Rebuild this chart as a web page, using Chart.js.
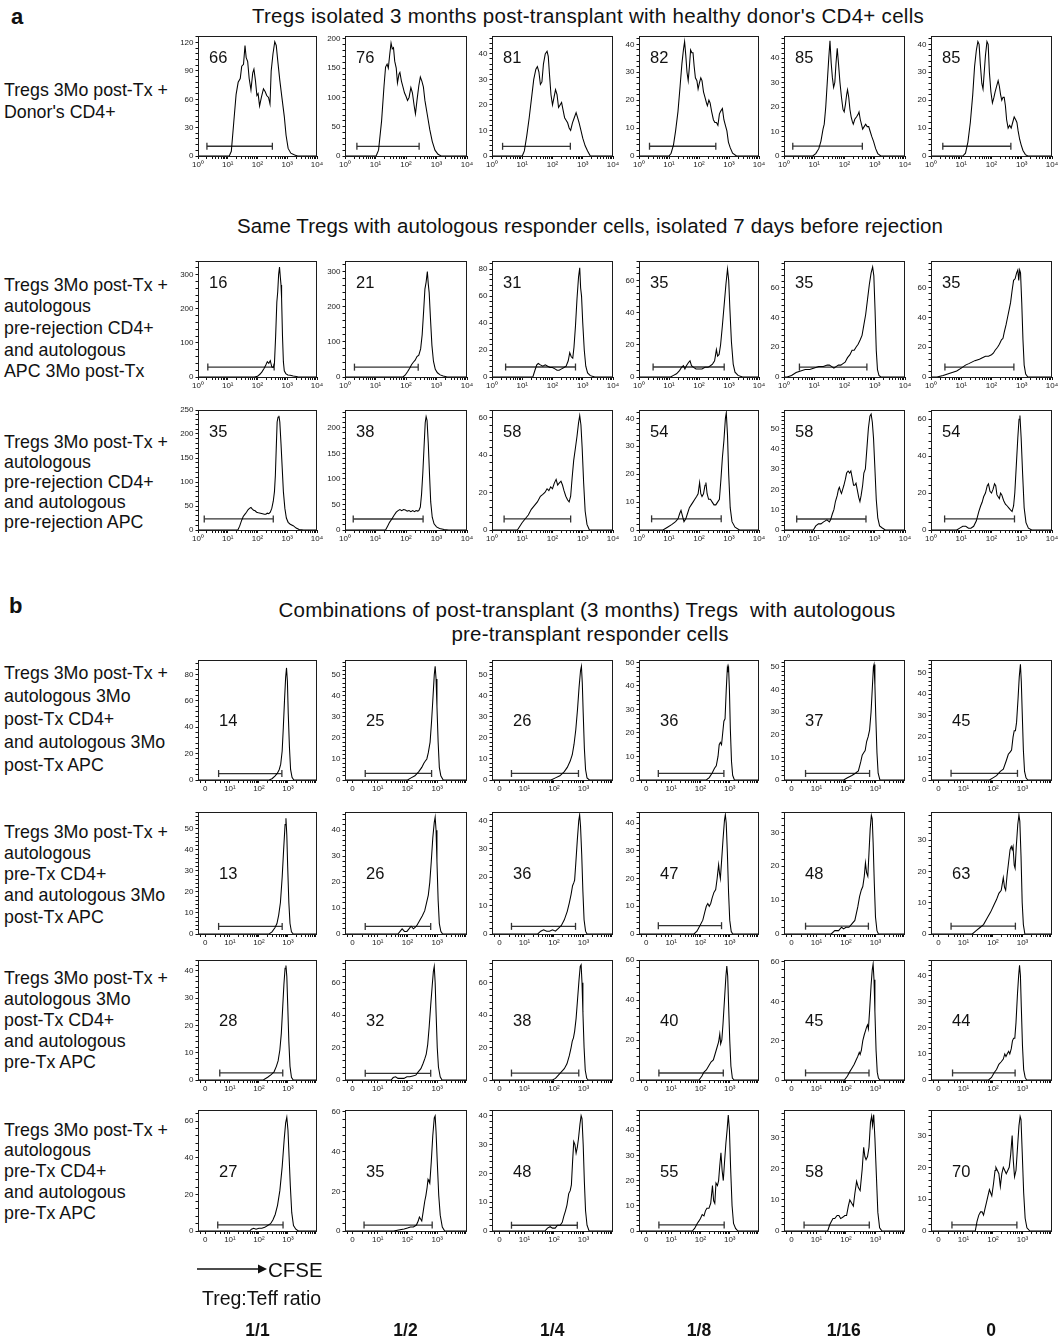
<!DOCTYPE html>
<html>
<head>
<meta charset="utf-8">
<script src="https://cdn.jsdelivr.net/npm/chart.js@4.4.1/dist/chart.umd.min.js"></script>
<style>
  html, body { margin: 0; padding: 0; background: #fff; }
  body { width: 1063px; height: 1337px; position: relative; overflow: hidden;
         font-family: "Liberation Sans", Arial, Helvetica, sans-serif; color: #111; }
  .t { position: absolute; white-space: pre; }
  canvas { position: absolute; }
</style>
</head>
<body>
<script>
// ---------------- labels ----------------
const ratioLabels = ['1/1', '1/2', '1/4', '1/8', '1/16', '0'];
const titleA1 = "Tregs isolated 3 months post-transplant with healthy donor's CD4+ cells";
const titleA2 = "Same Tregs with autologous responder cells, isolated 7 days before rejection";
const titleB = ["Combinations of post-transplant (3 months) Tregs  with autologous", "pre-transplant responder cells"];
const rowTextA1 = ["Tregs 3Mo post-Tx +", "Donor's CD4+"];
const rowTextA2 = ["Tregs 3Mo post-Tx +", "autologous", "pre-rejection CD4+", "and autologous", "APC 3Mo post-Tx"];
const rowTextA3 = ["Tregs 3Mo post-Tx +", "autologous", "pre-rejection CD4+", "and autologous", "pre-rejection APC"];
const rowTextB1 = ["Tregs 3Mo post-Tx +", "autologous 3Mo", "post-Tx CD4+", "and autologous 3Mo", "post-Tx APC"];
const rowTextB2 = ["Tregs 3Mo post-Tx +", "autologous", "pre-Tx CD4+", "and autologous 3Mo", "post-Tx APC"];
const rowTextB3 = ["Tregs 3Mo post-Tx +", "autologous 3Mo", "post-Tx CD4+", "and autologous", "pre-Tx APC"];
const rowTextB4 = ["Tregs 3Mo post-Tx +", "autologous", "pre-Tx CD4+", "and autologous", "pre-Tx APC"];

// ---------------- % cells in the division gate ----------------
const pctA1 = [66, 76, 81, 82, 85, 85];
const pctA2 = [16, 21, 31, 35, 35, 35];
const pctA3 = [35, 38, 58, 54, 58, 54];
const pctB1 = [14, 25, 26, 36, 37, 45];
const pctB2 = [13, 26, 36, 47, 48, 63];
const pctB3 = [28, 32, 38, 40, 45, 44];
const pctB4 = [27, 35, 48, 55, 58, 70];

// ---------------- count axes: top of range and tick step ----------------
const yMaxA1 = [127, 205, 47, 43, 49, 43];   const yStepA1 = [30, 50, 10, 10, 10, 10];
const yMaxA2 = [340, 330, 86, 72, 78, 78];   const yStepA2 = [100, 100, 20, 20, 20, 20];
const yMaxA3 = [250, 235, 64, 43, 59, 65];   const yStepA3 = [50, 50, 20, 10, 10, 20];
const yMaxB1 = [91, 57, 57, 51, 53, 56];     const yStepB1 = [20, 10, 10, 10, 10, 10];
const yMaxB2 = [58, 47, 43, 44, 36, 39];     const yStepB2 = [10, 10, 10, 10, 10, 10];
const yMaxB3 = [44, 74, 74, 60, 61, 46];     const yStepB3 = [10, 20, 20, 20, 20, 10];
const yMaxB4 = [66, 61, 42, 48, 39, 38];     const yStepB4 = [20, 20, 10, 10, 10, 10];

// ---------------- gates: [from, to, drawn at count] ----------------
const gateA1 = [[0.3, 2.5, 10.3], [0.39, 2.43, 16.6], [0.35, 2.59, 3.8], [0.35, 2.56, 3.5], [0.29, 2.59, 4.0], [0.39, 2.64, 3.5]];
const gateA2 = [[0.33, 2.56, 29], [0.31, 2.4, 28], [0.45, 2.76, 7.4], [0.47, 2.84, 6.2], [0.51, 2.74, 6.7], [0.46, 2.74, 6.7]];
const gateA3 = [[0.21, 2.53, 23], [0.27, 2.56, 21.5], [0.4, 2.6, 5.9], [0.42, 2.74, 4], [0.42, 2.71, 5.4], [0.45, 2.76, 6]];
const gateB1 = [[0.61, 2.79, 4.9], [0.58, 2.81, 3.1], [0.56, 2.83, 3.1], [0.56, 2.8, 2.8], [0.63, 2.8, 2.9], [0.58, 2.83, 3.1]];
const gateB2 = [[0.61, 2.8, 3.6], [0.58, 2.78, 2.9], [0.56, 2.73, 2.7], [0.56, 2.72, 3], [0.63, 2.76, 2.3], [0.58, 2.76, 2.5]];
const gateB3 = [[0.65, 2.82, 2.6], [0.58, 2.78, 4.1], [0.56, 2.84, 4.3], [0.58, 2.78, 3.5], [0.63, 2.78, 3.6], [0.63, 2.75, 2.7]];
const gateB4 = [[0.58, 2.83, 3.3], [0.54, 2.83, 3], [0.56, 2.79, 2], [0.58, 2.81, 2.4], [0.58, 2.79, 1.9], [0.61, 2.81, 1.9]];

// ---------------- CFSE histograms: [decade position, count] ----------------
// row a1: Tregs + donor CD4+
const a1_1 = [[0,0],[1.05,0],[1.12,5],[1.2,35],[1.28,65],[1.35,78],[1.42,82],[1.47,95],[1.53,97],[1.58,117],[1.62,104],[1.67,100],[1.72,82],[1.78,70],[1.84,88],[1.88,92],[1.93,80],[1.98,64],[2.02,66],[2.07,53],[2.13,62],[2.2,71],[2.26,68],[2.31,64],[2.37,62],[2.42,55],[2.46,90],[2.52,108],[2.58,121],[2.63,117],[2.69,98],[2.75,80],[2.82,62],[2.9,42],[2.96,22],[3.03,8],[3.12,3],[3.25,1],[3.35,0],[4,0]];
const a1_2 = [[0,0],[1.02,0],[1.1,10],[1.2,60],[1.28,120],[1.33,152],[1.38,157],[1.42,150],[1.47,175],[1.51,193],[1.55,183],[1.59,185],[1.63,162],[1.68,150],[1.72,125],[1.77,140],[1.8,143],[1.85,128],[1.9,118],[1.95,108],[2.0,102],[2.05,95],[2.1,100],[2.16,117],[2.21,108],[2.27,85],[2.31,72],[2.36,95],[2.42,120],[2.47,135],[2.52,128],[2.57,118],[2.62,95],[2.7,70],[2.78,45],[2.86,25],[2.95,10],[3.05,3],[3.15,0],[4,0]];
const a1_3 = [[0,0],[1.0,0],[1.07,2],[1.15,8],[1.23,15],[1.3,22],[1.38,30],[1.45,34],[1.5,35],[1.55,33],[1.6,28],[1.65,29],[1.7,36],[1.76,40],[1.82,41],[1.86,39],[1.9,32],[1.95,24],[2.0,20],[2.05,23],[2.1,26],[2.15,24],[2.2,19],[2.25,20],[2.3,21],[2.35,18],[2.4,15],[2.45,14],[2.5,13],[2.55,11],[2.6,10],[2.66,13],[2.72,15],[2.78,17],[2.83,15],[2.88,13],[2.94,10],[3.0,7],[3.08,4],[3.16,2],[3.25,0],[4,0]];
const a1_4 = [[0,0],[1.0,0],[1.07,1],[1.15,4],[1.22,9],[1.3,16],[1.37,25],[1.43,33],[1.48,38],[1.52,41],[1.56,36],[1.6,30],[1.64,27],[1.68,32],[1.72,38],[1.76,37],[1.8,37],[1.84,32],[1.88,28],[1.93,27],[1.97,24],[2.01,26],[2.06,28],[2.1,27],[2.15,23],[2.2,21],[2.25,19],[2.28,18],[2.33,20],[2.37,19],[2.42,16],[2.48,13],[2.53,12],[2.58,12],[2.63,11],[2.68,15],[2.72,16],[2.78,17],[2.83,13],[2.88,11],[2.93,9],[2.98,5],[3.04,3],[3.12,1],[3.25,0],[4,0]];
const a1_5 = [[0,0],[0.95,0],[1.05,1],[1.15,3],[1.22,6],[1.29,11],[1.33,13],[1.38,20],[1.43,30],[1.48,40],[1.52,47],[1.56,38],[1.6,32],[1.64,28],[1.68,30],[1.72,38],[1.76,44],[1.8,38],[1.85,30],[1.9,24],[1.95,19],[1.99,18],[2.03,21],[2.07,25],[2.1,27],[2.14,24],[2.18,19],[2.22,16],[2.26,14],[2.29,13],[2.34,15],[2.4,16],[2.45,17],[2.48,18],[2.52,15],[2.56,13],[2.6,11],[2.65,12],[2.7,13],[2.75,12],[2.8,12],[2.85,10],[2.9,8],[2.96,6],[3.03,3],[3.1,1],[3.2,0],[4,0]];
const a1_6 = [[0,0],[1.05,0],[1.14,1],[1.22,5],[1.3,12],[1.38,22],[1.44,32],[1.5,38],[1.55,41],[1.59,40],[1.63,33],[1.68,26],[1.72,24],[1.76,30],[1.8,36],[1.85,41],[1.89,40],[1.93,30],[1.98,23],[2.03,19],[2.08,21],[2.12,23],[2.17,25],[2.22,27],[2.26,25],[2.3,22],[2.34,20],[2.38,21],[2.42,21],[2.46,18],[2.5,13],[2.55,10],[2.6,11],[2.65,10],[2.7,12],[2.75,14],[2.8,13],[2.84,12],[2.88,9],[2.93,6],[2.98,4],[3.04,2],[3.12,0.5],[3.2,0],[4,0]];

// row a2: + pre-rejection CD4+ and 3Mo APC
const a2_1 = [[0,0],[1.9,0],[2.0,2],[2.08,8],[2.15,15],[2.22,25],[2.28,35],[2.33,45],[2.38,40],[2.43,48],[2.48,30],[2.53,28],[2.57,40],[2.61,120],[2.65,220],[2.68,250],[2.71,300],[2.74,322],[2.77,290],[2.79,270],[2.81,230],[2.84,120],[2.87,45],[2.9,18],[2.95,10],[3.02,6],[3.1,5],[3.2,3],[3.35,1],[3.5,0],[4,0]];
const a2_2 = [[0,0],[1.9,0],[1.97,5],[2.05,15],[2.12,25],[2.18,35],[2.24,42],[2.3,48],[2.36,58],[2.42,62],[2.48,80],[2.53,120],[2.58,190],[2.62,250],[2.66,270],[2.7,300],[2.73,265],[2.76,240],[2.8,170],[2.85,90],[2.9,45],[2.96,22],[3.03,12],[3.12,6],[3.22,3],[3.35,0],[4,0]];
const a2_3 = [[0,0],[1.35,0],[1.42,5],[1.48,9],[1.53,10],[1.6,9],[1.68,8],[1.76,9],[1.84,8],[1.92,7],[2.0,7],[2.08,6],[2.15,5],[2.22,5],[2.3,6],[2.38,7],[2.45,8],[2.52,12],[2.57,18],[2.62,15],[2.67,14],[2.71,22],[2.76,38],[2.81,58],[2.86,74],[2.9,81],[2.93,66],[2.96,60],[3.0,40],[3.05,20],[3.1,8],[3.16,3],[3.25,1],[3.4,0],[4,0]];
const a2_4 = [[0,0],[1.05,0],[1.15,1],[1.25,2],[1.35,4],[1.42,6],[1.48,7],[1.53,5],[1.58,7],[1.65,9],[1.7,10],[1.75,7],[1.82,6],[1.9,5],[2.0,5],[2.1,5],[2.2,6],[2.3,6],[2.38,7],[2.45,8],[2.52,10],[2.58,17],[2.62,13],[2.67,14],[2.72,20],[2.78,32],[2.84,45],[2.9,58],[2.95,67],[2.99,60],[3.03,42],[3.08,22],[3.14,8],[3.2,3],[3.3,1],[3.45,0],[4,0]];
const a2_5 = [[0,0],[0.1,0],[0.25,1],[0.4,3],[0.55,4],[0.7,5],[0.85,5],[1.0,6],[1.15,7],[1.3,7],[1.43,8],[1.5,8],[1.58,7],[1.65,6],[1.72,7],[1.8,8],[1.88,8],[1.95,9],[2.02,10],[2.1,13],[2.18,15],[2.25,18],[2.32,18],[2.38,20],[2.45,22],[2.52,25],[2.58,28],[2.64,35],[2.7,42],[2.76,52],[2.82,62],[2.88,70],[2.93,74],[2.97,68],[3.01,45],[3.05,18],[3.09,5],[3.14,1],[3.2,0],[4,0]];
const a2_6 = [[0,0],[0.2,0],[0.4,1],[0.55,2],[0.7,3],[0.85,4],[1.0,6],[1.14,8],[1.25,9],[1.35,10],[1.45,11],[1.6,12],[1.7,13],[1.8,14],[1.9,14],[2.0,15],[2.06,16],[2.12,18],[2.2,20],[2.26,22],[2.33,25],[2.38,26],[2.42,30],[2.48,35],[2.53,40],[2.58,45],[2.63,50],[2.68,58],[2.73,65],[2.78,66],[2.83,70],[2.87,72],[2.9,65],[2.93,72],[2.96,70],[3.0,50],[3.04,25],[3.08,8],[3.13,2],[3.2,0],[4,0]];

// row a3: + pre-rejection CD4+ and pre-rejection APC
const a3_1 = [[0,0],[1.34,0],[1.4,8],[1.46,19],[1.52,28],[1.58,33],[1.63,37],[1.68,42],[1.73,45],[1.78,47],[1.82,44],[1.87,41],[1.92,40],[1.97,37],[2.03,36],[2.1,35],[2.17,34],[2.23,33],[2.28,33],[2.33,35],[2.38,34],[2.43,37],[2.48,45],[2.53,60],[2.57,80],[2.6,113],[2.63,170],[2.66,225],[2.69,235],[2.72,238],[2.75,225],[2.79,180],[2.83,130],[2.87,80],[2.92,45],[2.97,25],[3.03,16],[3.1,12],[3.2,9],[3.3,4],[3.4,1],[3.55,0],[4,0]];
const a3_2 = [[0,0],[1.33,0],[1.4,8],[1.46,15],[1.52,20],[1.6,28],[1.68,35],[1.74,38],[1.8,40],[1.86,38],[1.92,40],[1.98,39],[2.04,37],[2.1,38],[2.16,36],[2.22,38],[2.28,36],[2.33,38],[2.38,37],[2.42,38],[2.47,45],[2.51,70],[2.55,110],[2.59,160],[2.63,210],[2.66,222],[2.69,215],[2.73,170],[2.77,110],[2.81,55],[2.86,25],[2.92,12],[3.0,6],[3.1,3],[3.25,1],[3.4,0],[4,0]];
const a3_3 = [[0,0],[0.84,0],[0.92,2],[1.0,4],[1.1,6],[1.2,8],[1.3,11],[1.4,13],[1.5,15],[1.6,18],[1.68,19],[1.75,20],[1.82,22],[1.88,21],[1.94,23],[2.0,22],[2.06,25],[2.12,27],[2.17,24],[2.22,25],[2.28,26],[2.33,24],[2.38,21],[2.44,18],[2.5,16],[2.55,15],[2.6,18],[2.65,28],[2.7,37],[2.76,44],[2.81,50],[2.86,57],[2.9,61],[2.94,56],[2.98,44],[3.03,25],[3.08,10],[3.14,3],[3.22,0],[4,0]];
const a3_4 = [[0,0],[0.8,0],[0.95,1],[1.1,2],[1.22,3],[1.3,4],[1.36,6],[1.4,7],[1.45,5],[1.5,3],[1.56,4],[1.62,6],[1.68,8],[1.74,9],[1.8,10],[1.86,11],[1.92,12],[1.97,13],[2.02,17],[2.06,13],[2.1,12],[2.15,13],[2.2,16],[2.23,17],[2.27,13],[2.32,11],[2.38,11],[2.44,10],[2.5,9],[2.56,9],[2.62,10],[2.68,11],[2.73,18],[2.78,26],[2.83,32],[2.88,40],[2.91,42],[2.95,34],[2.99,20],[3.04,8],[3.1,3],[3.2,1],[3.35,0],[4,0]];
const a3_5 = [[0,0],[0.97,0],[1.05,2],[1.14,3],[1.22,3],[1.31,4],[1.42,5],[1.5,4],[1.54,5],[1.6,8],[1.65,10],[1.7,14],[1.76,17],[1.8,20],[1.83,21],[1.87,19],[1.9,18],[1.94,20],[1.98,22],[2.03,25],[2.07,28],[2.12,29],[2.17,28],[2.21,29],[2.25,26],[2.3,22],[2.34,22],[2.38,23],[2.42,20],[2.47,16],[2.51,14],[2.55,17],[2.6,22],[2.64,28],[2.69,30],[2.74,40],[2.79,50],[2.84,56],[2.88,57],[2.92,53],[2.96,45],[3.0,32],[3.05,15],[3.1,6],[3.16,2],[3.25,1],[3.35,0],[4,0]];
const a3_6 = [[0,0],[0.85,0],[0.95,1],[1.05,2],[1.15,2],[1.24,1],[1.32,1],[1.41,2],[1.5,5],[1.58,10],[1.64,13],[1.69,15],[1.74,18],[1.8,20],[1.86,24],[1.9,25],[1.95,21],[2.0,20],[2.05,22],[2.1,25],[2.14,24],[2.18,19],[2.22,18],[2.26,17],[2.3,20],[2.34,19],[2.4,16],[2.46,14],[2.52,13],[2.57,12],[2.62,11],[2.68,10],[2.73,13],[2.77,20],[2.82,35],[2.87,50],[2.91,60],[2.94,62],[2.98,50],[3.03,30],[3.08,12],[3.14,4],[3.22,1],[3.33,0],[4,0]];

// row b1: + 3Mo CD4+ and 3Mo APC
const b1_1 = [[-0.1,0],[2.35,0],[2.45,1],[2.55,3],[2.63,5],[2.7,8],[2.75,12],[2.8,22],[2.84,40],[2.88,60],[2.92,78],[2.95,85],[2.98,75],[3.01,50],[3.05,25],[3.09,8],[3.14,2],[3.2,0],[4,0]];
const b1_2 = [[-0.1,0],[2.0,0],[2.12,1],[2.25,2],[2.38,4],[2.48,6],[2.55,8],[2.6,9],[2.65,10],[2.7,13],[2.76,18],[2.81,28],[2.86,40],[2.9,50],[2.93,54],[2.96,48],[2.99,35],[3.03,18],[3.07,6],[3.12,2],[3.2,0],[4,0]];
const b1_3 = [[-0.1,0],[1.9,0],[2.05,1],[2.2,2],[2.35,4],[2.45,6],[2.55,9],[2.62,12],[2.68,17],[2.74,24],[2.8,34],[2.85,44],[2.9,52],[2.93,54],[2.96,46],[2.99,32],[3.03,15],[3.07,5],[3.12,1],[3.2,0],[4,0]];
const b1_4 = [[-0.1,0],[2.2,0],[2.3,1],[2.4,3],[2.48,5],[2.54,6],[2.6,10],[2.64,15],[2.68,16],[2.72,15],[2.76,20],[2.8,25],[2.84,26],[2.88,38],[2.92,48],[2.94,47],[2.96,48],[2.99,38],[3.02,22],[3.06,8],[3.1,2],[3.16,0],[4,0]];
const b1_5 = [[-0.1,0],[1.92,0],[2.05,1],[2.2,2],[2.32,3],[2.42,4],[2.5,8],[2.55,11],[2.6,12],[2.65,13],[2.7,17],[2.75,19],[2.8,22],[2.85,30],[2.89,40],[2.93,50],[2.95,51],[2.98,42],[3.01,28],[3.05,12],[3.09,3],[3.15,0],[4,0]];
const b1_6 = [[-0.1,0],[1.88,0],[2.0,1],[2.12,2],[2.25,4],[2.35,5],[2.45,9],[2.52,12],[2.58,13],[2.63,14],[2.68,20],[2.72,23],[2.76,23],[2.8,27],[2.85,38],[2.89,48],[2.93,54],[2.96,46],[2.99,32],[3.03,14],[3.07,4],[3.12,1],[3.18,0],[4,0]];

// row b2: + pre-Tx CD4+ and 3Mo APC
const b2_1 = [[-0.1,0],[2.35,0],[2.45,1],[2.55,3],[2.62,5],[2.68,9],[2.74,15],[2.8,27],[2.85,40],[2.9,52],[2.93,55],[2.96,47],[2.99,32],[3.03,15],[3.07,5],[3.12,1],[3.18,0],[4,0]];
const b2_2 = [[-0.1,0],[1.68,0],[1.75,1],[1.82,2],[1.9,1],[1.98,1],[2.05,2],[2.12,3],[2.2,2],[2.3,3],[2.4,5],[2.5,7],[2.58,9],[2.64,12],[2.7,15],[2.75,20],[2.8,28],[2.85,37],[2.9,43],[2.93,45],[2.96,40],[2.99,28],[3.03,13],[3.07,4],[3.12,1],[3.18,0],[4,0]];
const b2_3 = [[-0.1,0],[1.45,0],[1.55,1],[1.65,1.5],[1.75,1],[1.85,1],[1.95,1.5],[2.05,1],[2.15,2],[2.25,3],[2.35,5],[2.45,8],[2.52,11],[2.58,14],[2.63,17],[2.67,18],[2.7,19],[2.74,25],[2.79,33],[2.84,40],[2.87,42],[2.9,38],[2.94,28],[2.98,15],[3.02,5],[3.07,1],[3.12,0],[4,0]];
const b2_4 = [[-0.1,0],[1.78,0],[1.88,1],[1.98,3],[2.08,5],[2.15,8],[2.2,10],[2.25,11],[2.3,10],[2.35,11],[2.4,13],[2.46,15],[2.52,16],[2.57,20],[2.62,25],[2.65,22],[2.68,20],[2.72,26],[2.77,34],[2.82,41],[2.85,43],[2.88,40],[2.92,29],[2.96,15],[3.0,5],[3.05,1],[3.1,0],[4,0]];
const b2_5 = [[-0.1,0],[1.5,0],[1.62,1],[1.75,1],[1.85,2],[1.92,1.5],[2.0,2],[2.1,2],[2.2,3],[2.3,4],[2.4,8],[2.46,11],[2.52,13],[2.57,14],[2.62,17],[2.66,21],[2.7,18],[2.74,17],[2.78,24],[2.82,31],[2.86,35],[2.89,34],[2.92,27],[2.96,15],[3.0,5],[3.05,1],[3.1,0],[4,0]];
const b2_6 = [[-0.1,0],[1.3,0],[1.42,1],[1.55,2],[1.68,3],[1.8,5],[1.92,7],[2.02,9],[2.12,11],[2.2,13],[2.28,14],[2.35,18],[2.39,15],[2.43,14],[2.48,19],[2.53,23],[2.58,27],[2.62,28],[2.65,27],[2.68,28],[2.72,22],[2.75,21],[2.79,28],[2.84,35],[2.88,38],[2.91,36],[2.95,25],[2.99,10],[3.03,3],[3.08,0],[4,0]];

// row b3: + 3Mo CD4+ and pre-Tx APC
const b3_1 = [[-0.1,0],[2.15,0],[2.3,1],[2.42,2],[2.52,3],[2.6,5],[2.66,7],[2.72,11],[2.77,17],[2.82,27],[2.86,35],[2.9,41],[2.93,42],[2.96,38],[2.99,28],[3.03,14],[3.07,5],[3.12,1],[3.18,0],[4,0]];
const b3_2 = [[-0.1,0],[1.45,0],[1.52,1.5],[1.6,2],[1.68,1],[1.78,1],[1.88,1],[1.98,2],[2.08,2],[2.18,2.5],[2.28,3],[2.36,5],[2.45,7],[2.52,10],[2.58,13],[2.63,16],[2.68,22],[2.73,33],[2.78,46],[2.83,58],[2.87,67],[2.9,70],[2.93,60],[2.96,42],[3.0,20],[3.04,8],[3.1,2],[3.16,0],[4,0]];
const b3_3 = [[-0.1,0],[1.95,0],[2.05,1],[2.15,3],[2.25,5],[2.35,7],[2.44,10],[2.52,15],[2.58,20],[2.62,24],[2.66,26],[2.7,30],[2.75,38],[2.8,50],[2.85,62],[2.89,70],[2.92,71],[2.95,60],[2.98,42],[3.02,20],[3.06,6],[3.11,1],[3.16,0],[4,0]];
const b3_4 = [[-0.1,0],[1.95,0],[2.05,2],[2.12,4],[2.2,5],[2.28,7],[2.36,9],[2.44,10],[2.5,13],[2.56,16],[2.62,19],[2.66,23],[2.69,18],[2.73,20],[2.77,28],[2.82,40],[2.87,52],[2.9,57],[2.93,52],[2.96,38],[3.0,20],[3.04,7],[3.09,1],[3.15,0],[4,0]];
const b3_5 = [[-0.1,0],[1.95,0],[2.05,2],[2.12,4],[2.2,6],[2.28,8],[2.34,10],[2.4,12],[2.45,14],[2.48,13],[2.52,15],[2.57,20],[2.62,23],[2.66,25],[2.7,27],[2.73,28],[2.76,26],[2.8,35],[2.85,48],[2.89,56],[2.92,59],[2.95,51],[2.98,35],[3.02,15],[3.06,4],[3.1,1],[3.15,0],[4,0]];
const b3_6 = [[-0.1,0],[1.85,0],[1.95,1],[2.05,3],[2.12,4],[2.2,6],[2.28,7],[2.35,8],[2.4,10],[2.44,9],[2.48,10],[2.53,11],[2.57,10],[2.62,12],[2.66,15],[2.7,16],[2.74,16],[2.78,22],[2.83,33],[2.87,40],[2.9,44],[2.93,40],[2.96,28],[3.0,13],[3.04,4],[3.09,1],[3.14,0],[4,0]];

// row b4: + pre-Tx CD4+ and pre-Tx APC
const b4_1 = [[-0.1,0],[1.68,0],[1.74,1],[1.82,1.5],[1.9,1],[2.0,1.5],[2.1,1.5],[2.2,2],[2.3,3],[2.4,4],[2.48,6],[2.56,9],[2.64,14],[2.72,22],[2.8,35],[2.87,50],[2.92,59],[2.96,62],[3.0,55],[3.04,40],[3.08,25],[3.13,10],[3.19,3],[3.27,1],[3.36,0],[4,0]];
const b4_2 = [[-0.1,0],[1.54,0],[1.7,0.5],[1.89,1],[2.0,1.5],[2.1,2],[2.2,2],[2.3,3],[2.36,5],[2.4,7],[2.44,6],[2.48,5],[2.53,10],[2.58,15],[2.62,18],[2.66,22],[2.69,26],[2.72,25],[2.75,24],[2.8,35],[2.85,48],[2.9,57],[2.93,58],[2.96,50],[3.0,35],[3.05,18],[3.1,8],[3.17,2],[3.25,0],[4,0]];
const b4_3 = [[-0.1,0],[1.69,0],[1.78,1],[1.87,1.5],[1.95,1],[2.04,1],[2.12,2],[2.21,2],[2.28,3],[2.33,5],[2.39,7],[2.44,9],[2.5,13],[2.55,14],[2.59,16],[2.63,24],[2.67,31],[2.71,30],[2.75,27],[2.79,29],[2.83,32],[2.88,37],[2.92,40],[2.95,39],[2.99,30],[3.03,17],[3.07,7],[3.12,2],[3.19,0],[4,0]];
const b4_4 = [[-0.1,0],[1.72,0],[1.8,1],[1.89,3],[1.95,4],[2.0,5],[2.06,6.5],[2.12,6],[2.17,8],[2.22,9],[2.29,9],[2.35,11],[2.41,18],[2.45,12],[2.49,11],[2.53,19],[2.58,18],[2.62,20],[2.66,26],[2.7,31],[2.74,24],[2.78,20],[2.82,27],[2.87,35],[2.91,40],[2.95,46],[2.99,40],[3.03,25],[3.08,10],[3.13,3],[3.2,1],[3.28,0],[4,0]];
const b4_5 = [[-0.1,0],[1.38,0],[1.45,2],[1.5,3],[1.56,4],[1.62,4],[1.7,5],[1.76,5],[1.82,4],[1.9,4.5],[1.96,5],[2.02,5],[2.08,8],[2.13,10],[2.19,9],[2.25,8],[2.3,12],[2.36,16],[2.42,14],[2.48,13],[2.55,20],[2.6,27],[2.64,24],[2.68,23],[2.73,24],[2.78,27],[2.83,35],[2.87,37],[2.9,34],[2.94,37.5],[2.98,30],[3.03,18],[3.08,6],[3.14,1],[3.22,0],[4,0]];
const b4_6 = [[-0.1,0],[1.4,0],[1.46,3],[1.52,5],[1.58,6],[1.63,6],[1.68,5],[1.73,7],[1.78,9],[1.83,11],[1.88,13],[1.92,12],[1.96,11],[2.02,15],[2.07,19],[2.1,20],[2.15,19],[2.2,18],[2.25,14],[2.3,18],[2.35,20],[2.4,19],[2.45,18],[2.5,19],[2.55,20],[2.6,24],[2.65,30],[2.69,22],[2.73,17],[2.78,19],[2.83,26],[2.88,33],[2.92,36],[2.95,35],[2.99,25],[3.04,12],[3.09,4],[3.15,1],[3.25,0],[4,0]];

// ---------------- page geometry ----------------
const colLeft  = [198, 344.5, 492, 639, 783.5, 930.5];
const colRight = [317, 466.5, 612.5, 759, 904, 1051.5];

const rows = [
  { kind: 'log', box: [36, 156],    pctAt: 'top', curves: [a1_1, a1_2, a1_3, a1_4, a1_5, a1_6], pct: pctA1, yMax: yMaxA1, yStep: yStepA1, gate: gateA1, text: rowTextA1, textY: 90,   lineH: 22 },
  { kind: 'log', box: [261, 377],   pctAt: 'top', curves: [a2_1, a2_2, a2_3, a2_4, a2_5, a2_6], pct: pctA2, yMax: yMaxA2, yStep: yStepA2, gate: gateA2, text: rowTextA2, textY: 285,  lineH: 21.7 },
  { kind: 'log', box: [410, 530],   pctAt: 'top', curves: [a3_1, a3_2, a3_3, a3_4, a3_5, a3_6], pct: pctA3, yMax: yMaxA3, yStep: yStepA3, gate: gateA3, text: rowTextA3, textY: 442,  lineH: 20 },
  { kind: 'bi',  box: [660, 780],   pctAt: 'mid', curves: [b1_1, b1_2, b1_3, b1_4, b1_5, b1_6], pct: pctB1, yMax: yMaxB1, yStep: yStepB1, gate: gateB1, text: rowTextB1, textY: 673,  lineH: 23 },
  { kind: 'bi',  box: [812, 934],   pctAt: 'mid', curves: [b2_1, b2_2, b2_3, b2_4, b2_5, b2_6], pct: pctB2, yMax: yMaxB2, yStep: yStepB2, gate: gateB2, text: rowTextB2, textY: 832,  lineH: 21.3 },
  { kind: 'bi',  box: [960, 1080],  pctAt: 'mid', curves: [b3_1, b3_2, b3_3, b3_4, b3_5, b3_6], pct: pctB3, yMax: yMaxB3, yStep: yStepB3, gate: gateB3, text: rowTextB3, textY: 978,  lineH: 21 },
  { kind: 'bi',  box: [1110, 1231], pctAt: 'mid', curves: [b4_1, b4_2, b4_3, b4_4, b4_5, b4_6], pct: pctB4, yMax: yMaxB4, yStep: yStepB4, gate: gateB4, text: rowTextB4, textY: 1130, lineH: 20.8 }
];

// ---------------- axis ticks ----------------
const subDecade = [2, 3, 4, 5, 6, 7, 8, 9].map(k => Math.log10(k));
const logTicks = [0, 1, 2, 3, 4];
[0, 1, 2, 3].forEach(d => subDecade.forEach(s => logTicks.push(d + s)));
const logTickText = { 0: '10\u2070', 100: '10\u00B9', 200: '10\u00B2', 300: '10\u00B3', 400: '10\u2074' };

const biTicks = [0.15, 1, 2, 3, -0.03, 0.5, 0.68, 0.8, 0.9];
[1, 2, 3].forEach(d => subDecade.forEach(s => biTicks.push(d + s)));
const biTickText = { 15: '0', 100: '10\u00B9', 200: '10\u00B2', 300: '10\u00B3' };

Chart.defaults.font.family = '"Liberation Sans", Arial, Helvetica, sans-serif';
Chart.defaults.color = '#222';

const PAD_L = 28, PAD_R = 9, PAD_T = 7, PAD_B = 18;

const framePlugin = {
  id: 'frame',
  afterDraw(chart) {
    const a = chart.chartArea, ctx = chart.ctx;
    ctx.save();
    ctx.strokeStyle = '#1c1c1c';
    ctx.lineWidth = 1;
    ctx.strokeRect(Math.round(a.left) + 0.5, Math.round(a.top) + 0.5,
                   Math.round(a.right - a.left) - 1, Math.round(a.bottom - a.top));
    ctx.restore();
  }
};

function gateLabel(text, where) {
  return {
    id: 'gateLabel',
    afterDraw(chart) {
      const a = chart.chartArea, ctx = chart.ctx;
      ctx.save();
      ctx.font = '16.5px "Liberation Sans", Arial, sans-serif';
      ctx.fillStyle = '#111';
      ctx.textBaseline = 'alphabetic';
      if (where === 'top') ctx.fillText(text, a.left + 11, a.top + 27);
      else ctx.fillText(text, a.left + 21, (a.top + a.bottom) / 2 + 6);
      ctx.restore();
    }
  };
}

function drawPanel(row, i) {
  const L = colLeft[i], R = colRight[i], T = row.box[0], B = row.box[1];
  const plotW = Math.round(R - L), plotH = Math.round(B - T);
  const w = plotW + PAD_L + PAD_R, h = plotH + PAD_T + PAD_B;
  const cv = document.createElement('canvas');
  cv.width = w; cv.height = h;
  cv.style.width = w + 'px'; cv.style.height = h + 'px';
  cv.style.left = Math.round(L - PAD_L) + 'px';
  cv.style.top = Math.round(T - PAD_T) + 'px';
  document.body.appendChild(cv);

  const isLog = row.kind === 'log';
  const xTicks = isLog ? logTicks : biTicks;
  const xText = isLog ? logTickText : biTickText;
  const yMax = row.yMax[i], yStep = row.yStep[i];
  const g = row.gate[i];

  const chart = new Chart(cv, {
    type: 'scatter',
    data: {
      datasets: [
        {
          data: row.curves[i].map(p => ({ x: p[0], y: p[1] })),
          showLine: true, borderColor: '#000', borderWidth: 1.05,
          pointRadius: 0, tension: 0
        },
        {
          data: [{ x: g[0], y: g[2] }, { x: g[1], y: g[2] }],
          showLine: true, borderColor: '#333', borderWidth: 1.3,
          pointStyle: 'line', rotation: 90, pointRadius: 3.5,
          pointBorderWidth: 1.3, pointBorderColor: '#333', clip: false
        }
      ]
    },
    options: {
      responsive: false, animation: false, devicePixelRatio: 1,
      layout: { padding: { top: PAD_T, right: PAD_R, left: 0, bottom: 0 } },
      plugins: { legend: { display: false }, tooltip: { enabled: false } },
      events: [],
      scales: {
        x: {
          type: 'linear', min: isLog ? 0 : -0.1, max: 4,
          afterFit: s => { s.height = PAD_B; },
          afterBuildTicks: s => { s.ticks = xTicks.map(v => ({ value: v })); },
          ticks: {
            autoSkip: false, maxRotation: 0, padding: 1,
            font: { size: 8 }, color: '#222',
            callback: v => xText[Math.round(v * 100)] || ''
          },
          grid: { drawOnChartArea: false, drawTicks: true, tickLength: 3, color: '#111' },
          border: { display: false }
        },
        y: {
          type: 'linear', min: 0, max: yMax,
          afterFit: s => { s.width = PAD_L; },
          afterBuildTicks: s => {
            const t = [];
            const minor = yStep / 5;
            for (let k = 0; k * minor <= yMax + 1e-9; k++) t.push({ value: k * minor });
            s.ticks = t;
          },
          ticks: {
            autoSkip: false, padding: 2, font: { size: 8 }, color: '#222',
            callback: v => (Math.abs(v / yStep - Math.round(v / yStep)) < 1e-6 ? String(Math.round(v)) : '')
          },
          grid: { drawOnChartArea: false, drawTicks: true, tickLength: 2.5, color: '#111' },
          border: { display: false }
        }
      }
    },
    plugins: [framePlugin, gateLabel(String(row.pct[i]), row.pctAt)]
  });

  // keep the plotting area exactly on its slot
  const a = chart.chartArea;
  cv.style.left = (L - a.left) + 'px';
  cv.style.top = (T - a.top) + 'px';
}

function text(str, x, yMid, size, opts = {}) {
  const d = document.createElement('div');
  d.className = 't';
  const lh = opts.lineH || Math.round(size * 1.2);
  d.style.fontSize = size + 'px';
  d.style.lineHeight = lh + 'px';
  d.style.top = (yMid - lh / 2) + 'px';
  if (opts.weight) d.style.fontWeight = opts.weight;
  if (opts.spacing) d.style.letterSpacing = opts.spacing + 'px';
  if (opts.center) { d.style.left = x + 'px'; d.style.transform = 'translateX(-50%)'; d.style.textAlign = 'center'; }
  else d.style.left = x + 'px';
  d.textContent = str;
  document.body.appendChild(d);
}

// headings
text('a', 11, 17, 22, { weight: 'bold' });
text(titleA1, 588, 15, 20.5, { center: true, spacing: 0.3 });
text(titleA2, 590, 225, 20.5, { center: true, spacing: 0.1 });
text('b', 9, 606, 22, { weight: 'bold' });
text(titleB[0], 587, 609, 20.5, { center: true, spacing: 0.2 });
text(titleB[1], 590, 633, 20.5, { center: true, spacing: 0.2 });

// row descriptions
rows.forEach(r => {
  r.text.forEach((s, k) => text(s, 4, r.textY + k * r.lineH, 17.8));
});

// histograms
rows.forEach(r => { for (let i = 0; i < 6; i++) drawPanel(r, i); });

// CFSE arrow
const svgNS = 'http://www.w3.org/2000/svg';
const svg = document.createElementNS(svgNS, 'svg');
svg.setAttribute('width', '1063'); svg.setAttribute('height', '1337');
svg.style.position = 'absolute'; svg.style.left = '0'; svg.style.top = '0';
svg.innerHTML = '<line x1="197" y1="1269" x2="259" y2="1269" stroke="#111" stroke-width="1.4"/>' +
                '<polygon points="258,1264.5 267,1269 258,1273.5" fill="#111"/>';
document.body.appendChild(svg);
text('CFSE', 268, 1269, 20.5);
text('Treg:Teff ratio', 202, 1298, 19.5);
ratioLabels.forEach((s, i) => text(s, (colLeft[i] + colRight[i]) / 2, 1330, 17.5, { center: true, weight: 'bold' }));
</script>
</body>
</html>
